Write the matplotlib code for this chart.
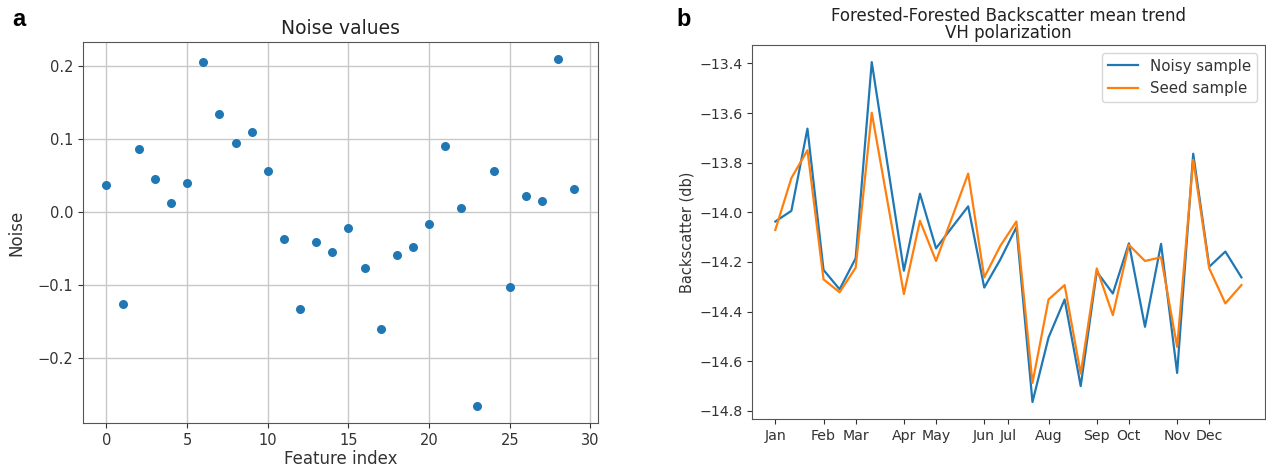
import numpy as np
import matplotlib
matplotlib.use('Agg')
from matplotlib import pyplot as plt

# panel a: noise added to each feature
feature_index = np.arange(30)
noise = [0.037, -0.126, 0.086, 0.045, 0.012, 0.040, 0.206, 0.134, 0.095, 0.110,
         0.056, -0.037, -0.132, -0.041, -0.054, -0.022, -0.076, -0.160, -0.059, -0.048,
         -0.016, 0.091, 0.006, -0.265, 0.056, -0.103, 0.022, 0.015, 0.209, 0.031]

# panel b: backscatter time series (30 acquisitions)
noisy_sample = [-14.037, -13.994, -13.663, -14.232, -14.310, -14.185, -13.395, -13.815, -14.235, -13.925,
                -14.145, -14.060, -13.976, -14.303, -14.190, -14.060, -14.764, -14.504, -14.351, -14.700,
                -14.239, -14.327, -14.125, -14.461, -14.127, -14.647, -13.764, -14.219, -14.158, -14.262]
seed_sample = [-14.071, -13.862, -13.750, -14.270, -14.322, -14.223, -13.599, -13.964, -14.329, -14.034,
               -14.196, -14.020, -13.844, -14.262, -14.135, -14.037, -14.687, -14.351, -14.293, -14.650,
               -14.226, -14.414, -14.131, -14.196, -14.181, -14.542, -13.788, -14.226, -14.367, -14.293]
month_pos = [0, 3, 5, 8, 10, 13, 14.5, 17, 20, 22, 25, 27]
month_labels = ['Jan', 'Feb', 'Mar', 'Apr', 'May', 'Jun', 'Jul', 'Aug', 'Sep', 'Oct', 'Nov', 'Dec']

fig = plt.figure(figsize=(12.66, 4.70), dpi=100)

ax1 = fig.add_axes([0.0656, 0.100, 0.4065, 0.8106])
ax1.scatter(feature_index, noise, s=30, color='#1f77b4', zorder=3)
ax1.grid(True, color='#c8c8c8', linewidth=1.0)
ax1.set_axisbelow(True)
ax1.set_xticks([0, 5, 10, 15, 20, 25, 30])
ax1.set_yticks([-0.2, -0.1, 0.0, 0.1, 0.2])
ax1.tick_params(labelsize=10.5, colors='#333333')
ax1.set_title('Noise values', fontsize=13.5, color='#222222')
ax1.set_xlabel('Feature index', fontsize=12, color='#333333', labelpad=2)
ax1.set_ylabel('Noise', fontsize=12, color='#333333', labelpad=9)
for sp in ax1.spines.values():
    sp.set_color('#555555')

ax2 = fig.add_axes([0.594, 0.1085, 0.405, 0.7955])
x = np.arange(len(noisy_sample))
ax2.plot(x, noisy_sample, color='#1f77b4', lw=1.6, label='Noisy sample')
ax2.plot(x, seed_sample, color='#ff7f0e', lw=1.6, label='Seed sample')
ax2.set_xticks(month_pos)
ax2.set_xticklabels(month_labels)
ax2.set_yticks([-14.8, -14.6, -14.4, -14.2, -14.0, -13.8, -13.6, -13.4])
ax2.tick_params(labelsize=10.2, colors='#333333')
ax2.set_ylabel('Backscatter (db)', fontsize=10.5, color='#333333', labelpad=3)
ax2.set_title('Forested-Forested Backscatter mean trend\nVH polarization',
              fontsize=12, color='#222222', linespacing=0.95, pad=5)
ax2.legend(loc='upper right', fontsize=10.8, labelcolor='#333333')
for sp in ax2.spines.values():
    sp.set_color('#555555')

fig.text(0.010, 0.945, 'a', fontsize=17, fontweight='bold', family='Liberation Sans')
fig.text(0.534, 0.945, 'b', fontsize=17, fontweight='bold', family='Liberation Sans')

plt.savefig('out.png', dpi=100)
